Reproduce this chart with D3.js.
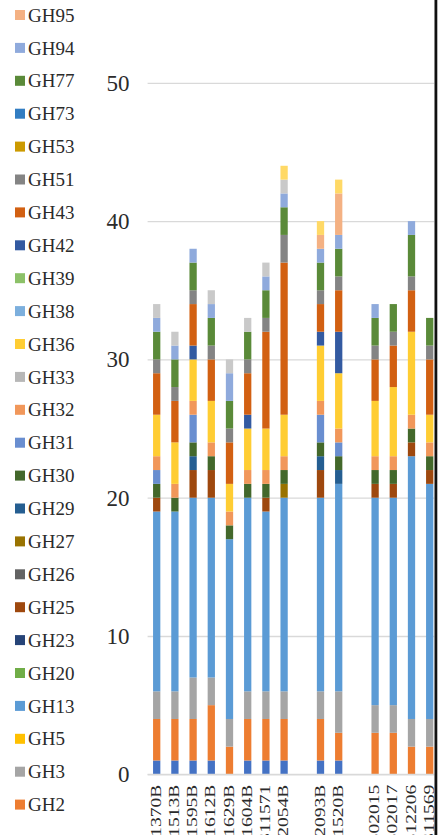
<!DOCTYPE html>
<html>
<head>
<meta charset="utf-8">
<script src="https://cdn.jsdelivr.net/npm/d3@7"></script>
<style>
    body { margin: 0; background: #fff; }
    svg { display: block; font-family: "Liberation Serif", "Times New Roman", serif; }
</style>
</head>
<body>
<div id="chart"></div>
<script>
// strains on the x axis, '' = empty slot in the original chart
var categories = ['CS1370B', 'CS1513B', 'CS1595B', 'CS1612B', 'CS1629B', 'CS1604B', 'CS11571', 'CS2054B', '',
                  'CS2093B', 'CS1520B', '', 'CS02015', 'CS02017', 'CS12206', 'CS11569'];

// series in stacking order (bottom first)
var series = ['GH1', 'GH2', 'GH3', 'GH5', 'GH13', 'GH20', 'GH23', 'GH25', 'GH26', 'GH27', 'GH29', 'GH30',
              'GH31', 'GH32', 'GH33', 'GH36', 'GH38', 'GH39', 'GH42', 'GH43', 'GH51', 'GH53', 'GH73',
              'GH77', 'GH94', 'GH95', 'GH105', 'GH115'];

var colors = ['#4472c4', '#ed7d31', '#a5a5a5', '#ffc000', '#5b9bd5', '#70ad47', '#264478', '#9e480e',
              '#636363', '#997300', '#255e91', '#43682b', '#698ed0', '#f1975a', '#b7b7b7', '#ffcd33',
              '#7cafdd', '#8cc168', '#335aa1', '#d26012', '#848484', '#cc9a00', '#327dc2', '#5a8a39',
              '#8faadc', '#f4b183', '#c9c9c9', '#ffd966'];

// gene counts per series, one value per category
var GH1   = [1, 1, 1, 1, 0, 1, 1, 1, 0, 1, 1, 0, 0, 0, 0, 0];
var GH2   = [3, 3, 3, 4, 2, 3, 3, 3, 0, 3, 2, 0, 3, 3, 2, 2];
var GH3   = [2, 2, 3, 2, 2, 2, 2, 2, 0, 2, 3, 0, 2, 2, 2, 2];
var GH5   = [0, 0, 0, 0, 0, 0, 0, 0, 0, 0, 0, 0, 0, 0, 0, 0];
var GH13  = [13, 13, 13, 13, 13, 14, 13, 14, 0, 14, 15, 0, 15, 15, 19, 17];
var GH20  = [0, 0, 0, 0, 0, 0, 0, 0, 0, 0, 0, 0, 0, 0, 0, 0];
var GH23  = [0, 0, 0, 0, 0, 0, 0, 0, 0, 0, 0, 0, 0, 0, 0, 0];
var GH25  = [1, 0, 2, 2, 0, 0, 1, 0, 0, 2, 0, 0, 1, 1, 1, 1];
var GH26  = [0, 0, 0, 0, 0, 0, 0, 0, 0, 0, 0, 0, 0, 0, 0, 0];
var GH27  = [0, 0, 0, 0, 0, 0, 0, 1, 0, 0, 0, 0, 0, 0, 0, 0];
var GH29  = [0, 0, 1, 0, 0, 0, 0, 0, 0, 1, 1, 0, 0, 0, 0, 0];
var GH30  = [1, 1, 1, 1, 1, 1, 1, 1, 0, 1, 1, 0, 1, 1, 1, 1];
var GH31  = [1, 0, 2, 0, 0, 0, 0, 0, 0, 2, 1, 0, 0, 0, 0, 0];
var GH32  = [1, 1, 1, 1, 1, 1, 1, 1, 0, 1, 1, 0, 1, 1, 1, 1];
var GH33  = [0, 0, 0, 0, 0, 0, 0, 0, 0, 0, 0, 0, 0, 0, 0, 0];
var GH36  = [3, 3, 3, 3, 2, 3, 3, 3, 0, 4, 4, 0, 4, 5, 6, 2];
var GH38  = [0, 0, 0, 0, 0, 0, 0, 0, 0, 0, 0, 0, 0, 0, 0, 0];
var GH39  = [0, 0, 0, 0, 0, 0, 0, 0, 0, 0, 0, 0, 0, 0, 0, 0];
var GH42  = [0, 0, 1, 0, 0, 1, 0, 0, 0, 1, 3, 0, 0, 0, 0, 0];
var GH43  = [3, 3, 3, 3, 3, 3, 7, 11, 0, 2, 3, 0, 3, 3, 3, 4];
var GH51  = [1, 1, 1, 1, 1, 1, 1, 2, 0, 1, 1, 0, 1, 1, 1, 1];
var GH53  = [0, 0, 0, 0, 0, 0, 0, 0, 0, 0, 0, 0, 0, 0, 0, 0];
var GH73  = [0, 0, 0, 0, 0, 0, 0, 0, 0, 0, 0, 0, 0, 0, 0, 0];
var GH77  = [2, 2, 2, 2, 2, 2, 2, 2, 0, 2, 2, 0, 2, 2, 3, 2];
var GH94  = [1, 1, 1, 1, 2, 0, 1, 1, 0, 1, 1, 0, 1, 0, 1, 0];
var GH95  = [0, 0, 0, 0, 0, 0, 0, 0, 0, 1, 3, 0, 0, 0, 0, 0];
var GH105 = [1, 1, 0, 1, 1, 1, 1, 1, 0, 0, 0, 0, 0, 0, 0, 0];
var GH115 = [0, 0, 0, 0, 0, 0, 0, 1, 0, 1, 1, 0, 0, 0, 0, 0];

var yTicks = [0, 10, 20, 30, 40, 50];

var values = [GH1, GH2, GH3, GH5, GH13, GH20, GH23, GH25, GH26, GH27, GH29, GH30, GH31, GH32,
              GH33, GH36, GH38, GH39, GH42, GH43, GH51, GH53, GH73, GH77, GH94, GH95, GH105, GH115];

var W = 439, H = 835,
    plotLeft = 147.6, plotRight = 438.8, clipRight = 434.5,
    plotTop = 82.8, plotBottom = 774.3;

var rows = categories.map(function(c, i) {
    var row = {index: i};
    series.forEach(function(s, j) { row[s] = values[j][i]; });
    return row;
});

var svg = d3.select('#chart').append('svg')
    .attr('width', W)
    .attr('height', H);

var defs = svg.append('defs');

defs.append('clipPath')
    .attr('id', 'plotclip')
    .append('rect')
    .attr('x', 0).attr('y', 0)
    .attr('width', clipRight).attr('height', H);

defs.append('clipPath')
    .attr('id', 'legendclip')
    .append('rect')
    .attr('x', 0).attr('y', 0)
    .attr('width', 140).attr('height', 822);

var xScale = d3.scaleBand()
        .domain(d3.range(categories.length))
        .range([plotLeft, plotRight])
        .paddingInner(0.6)
        .paddingOuter(0.3),
    yScale = d3.scaleLinear()
        .domain([0, 50])
        .range([plotBottom, plotTop]),
    cScale = d3.scaleOrdinal(series, colors);

var plot = svg.append('g')
    .attr('clip-path', 'url(#plotclip)');

// gridlines + y labels
var yy = plot.append('g')
    .attr('class', 'y axis')
    .attr('transform', 'translate(' + plotLeft + ',0)')
    .call(d3.axisLeft(yScale)
        .tickValues(yTicks)
        .tickSize(-(clipRight - plotLeft))
        .tickPadding(18));

yy.select('.domain').remove();
yy.selectAll('line')
    .attr('stroke', '#d9d9d9')
    .attr('stroke-width', 1.3);
yy.selectAll('text')
    .attr('fill', '#2b2b2b')
    .style('font-size', '23px')
    .style('font-family', '"Liberation Serif", serif');

// stacked bars
var stacked = d3.stack().keys(series)(rows);

plot.append('g').selectAll('g')
    .data(stacked)
    .enter()
    .append('g')
    .attr('fill', function(d) { return cScale(d.key); })
    .selectAll('rect')
    .data(function(d) { return d.filter(function(p) { return p[1] > p[0]; }); })
    .enter()
    .append('rect')
    .attr('x', function(d) { return xScale(d.data.index); })
    .attr('y', function(d) { return yScale(d[1]); })
    .attr('width', xScale.bandwidth())
    .attr('height', function(d) { return yScale(d[0]) - yScale(d[1]); });

// x axis with rotated, cut labels
var xx = plot.append('g')
    .attr('class', 'x axis')
    .attr('transform', 'translate(0,' + plotBottom + ')')
    .call(d3.axisBottom(xScale)
        .tickSize(0)
        .tickFormat(function(i) { return categories[i]; }));

xx.select('.domain')
    .attr('stroke', '#d9d9d9')
    .attr('stroke-width', 1.3)
    .attr('d', 'M' + plotLeft + ',0H' + clipRight);

xx.selectAll('text')
    .attr('x', 0)
    .attr('y', 0)
    .attr('dy', '0.35em')
    .attr('fill', '#2b2b2b')
    .style('text-anchor', 'end')
    .style('font-size', '19.5px')
    .style('font-family', '"Liberation Serif", serif')
    .attr('transform', 'translate(-1,10.5) rotate(-90) scale(1,0.74)');

// legend, reversed like the original (top series first)
var legendItems = series.slice().reverse();

var legend = svg.append('g')
    .attr('clip-path', 'url(#legendclip)')
    .selectAll('.legend')
    .data(legendItems)
    .enter()
    .append('g')
    .attr('class', 'legend')
    .attr('transform', function(d, i) { return 'translate(15,' + (15 + (i - 2) * 32.9) + ')'; });

legend.append('rect')
    .attr('y', -5)
    .attr('width', 10)
    .attr('height', 10)
    .attr('fill', function(d) { return cScale(d); });

legend.append('text')
    .attr('x', 13)
    .attr('dy', '0.35em')
    .attr('fill', '#2b2b2b')
    .style('font-size', '19px')
    .style('font-family', '"Liberation Serif", serif')
    .text(function(d) { return d; });

// frame edge at the right
svg.append('rect')
    .attr('x', clipRight)
    .attr('y', 0)
    .attr('width', 2.8)
    .attr('height', H)
    .attr('fill', '#111');
</script>
</body>
</html>
